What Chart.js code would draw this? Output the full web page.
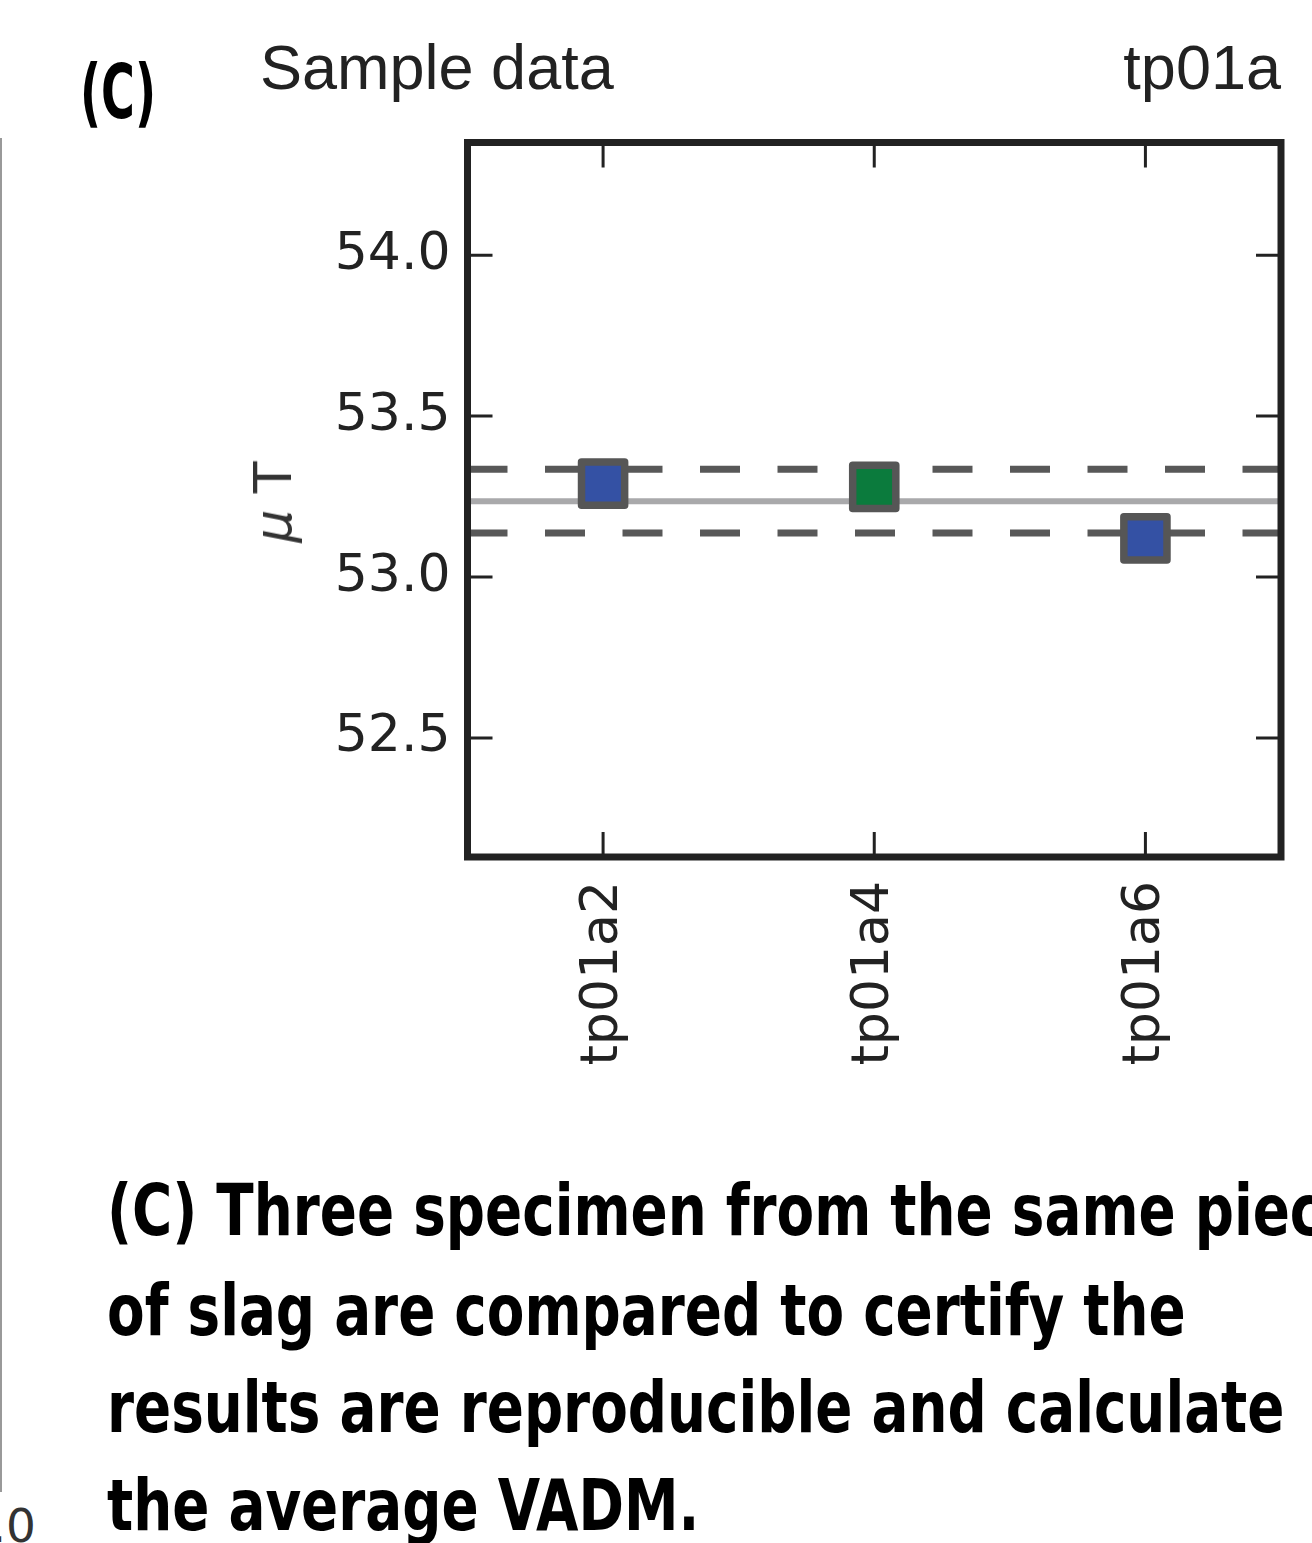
<!DOCTYPE html>
<html>
<head>
<meta charset="utf-8">
<script src="https://cdn.jsdelivr.net/npm/chart.js@4.4.1/dist/chart.umd.min.js"></script>
<style>
  html, body { margin: 0; padding: 0; background: #fff; }
  body { position: relative; width: 1312px; height: 1543px; overflow: hidden; }
  .abs { position: absolute; white-space: nowrap; line-height: 1; }
  .cond { font-family: "Liberation Sans Narrow", "DejaVu Sans Condensed", "DejaVu Sans", sans-serif; font-stretch: condensed; font-weight: bold; color: #000; transform-origin: left top; }
  .sans { font-family: "Liberation Sans", Arial, sans-serif; color: #222; }
  #chartWrap { position: absolute; left: 0; top: 0; width: 1319px; height: 1100px; }
</style>
</head>
<body>
<div id="chartWrap"><canvas id="c" width="1319" height="1100"></canvas></div>

<div class="abs cond" id="lblC" style="left:80px; top:55px; font-size:74px;">(C)</div>
<div class="abs sans" style="left:260px; top:36px; font-size:63px;">Sample data</div>
<div class="abs sans" style="right:31px; top:36px; font-size:63px;">tp01a</div>

<div class="abs" style="left:273px; top:502px; font-family:'DejaVu Sans'; font-size:52px; color:#333; transform:translate(-50%,-50%) rotate(-90deg);"><i>μ</i> T</div>

<div class="abs" style="left:0; top:138px; width:2px; height:1354px; background:#999;"></div>
<div class="abs" style="right:1276px; top:1502px; font-family:'DejaVu Sans'; font-size:47px; color:#333;">1.0</div>

<div class="abs cond cap" style="left:107px; top:1174px; font-size:72px;">(C) Three specimen from the same piece</div>
<div class="abs cond cap" style="left:107px; top:1274px; font-size:72px;">of slag are compared to certify the</div>
<div class="abs cond cap" id="capRef" style="left:107px; top:1371px; font-size:72px;">results are reproducible and calculate</div>
<div class="abs cond cap" id="capRef2" style="left:107px; top:1469px; font-size:72px;">the average VADM.</div>

<script>
// ---- data ----
const categories = ["tp01a2", "tp01a4", "tp01a6"];
const intensities = [53.29, 53.28, 53.12];          // µT
const markerColors = ["#3451a4", "#0b7b3d", "#3451a4"];
const meanValue = [53.235];
const stdBand = [53.137, 53.335];                     // mean - sd, mean + sd
const yTickValues = [52.5, 53.0, 53.5, 54.0];
const yRange = [52.13, 54.35];
const xRange = [-0.5, 2.5];

// fit condensed caption text to the reference line widths
(function fitText() {
  const r1 = document.getElementById('capRef');
  const r2 = document.getElementById('capRef2');
  const k = (1170 / r1.getBoundingClientRect().width + 596 / r2.getBoundingClientRect().width) / 2;
  document.querySelectorAll('.cap').forEach(el => { el.style.transform = 'scaleX(' + k + ')'; });
  const c = document.getElementById('lblC');
  c.style.transform = 'scaleX(' + (76 / c.getBoundingClientRect().width) + ')';
})();

const pointsData = categories.map((c, i) => ({ x: i, y: intensities[i] }));
const hLine = v => [{ x: xRange[0], y: v }, { x: xRange[1], y: v }];

const framePlugin = {
  id: 'frame',
  beforeDatasetsDraw(chart) { chart.ctx.lineJoin = 'round'; },
  afterDraw(chart) {
    const { ctx, chartArea: a, scales } = chart;
    ctx.save();
    ctx.strokeStyle = '#222';
    ctx.lineWidth = 3;
    ctx.beginPath();
    const tl = 25;
    categories.forEach((c, i) => {
      const px = scales.x.getPixelForValue(i);
      ctx.moveTo(px, a.bottom); ctx.lineTo(px, a.bottom - tl);
      ctx.moveTo(px, a.top); ctx.lineTo(px, a.top + tl);
    });
    yTickValues.forEach(v => {
      const py = scales.y.getPixelForValue(v);
      ctx.moveTo(a.left, py); ctx.lineTo(a.left + tl, py);
      ctx.moveTo(a.right, py); ctx.lineTo(a.right - tl, py);
    });
    ctx.stroke();
    ctx.lineWidth = 7;
    ctx.lineJoin = 'miter';
    ctx.strokeRect(a.left, a.top, a.right - a.left, a.bottom - a.top);
    ctx.restore();
  }
};

new Chart(document.getElementById('c'), {
  type: 'scatter',
  data: {
    datasets: [
      { data: pointsData, order: 0, showLine: false,
        pointStyle: 'rect', pointRadius: 30.5, pointHoverRadius: 30.5,
        pointBorderWidth: 7.5, pointBorderColor: '#565656',
        pointBackgroundColor: markerColors },
      { data: hLine(meanValue[0]), order: 1, showLine: true, pointRadius: 0,
        borderColor: '#a9a9ab', borderWidth: 6 },
      { data: hLine(stdBand[1]), order: 2, showLine: true, pointRadius: 0,
        borderColor: '#585858', borderWidth: 7, borderDash: [40, 37.5] },
      { data: hLine(stdBand[0]), order: 2, showLine: true, pointRadius: 0,
        borderColor: '#585858', borderWidth: 7, borderDash: [40, 37.5] }
    ]
  },
  options: {
    responsive: false,
    animation: false,
    devicePixelRatio: 1,
    layout: { padding: { left: 0, top: 142.5, right: 32, bottom: 0 } },
    plugins: { legend: { display: false }, title: { display: false }, tooltip: { enabled: false } },
    scales: {
      x: {
        type: 'linear', min: xRange[0], max: xRange[1],
        afterBuildTicks: s => { s.ticks = categories.map((c, i) => ({ value: i })); },
        afterFit: s => { s.height = 1100 - 857; s.paddingLeft = 0; s.paddingRight = 0; },
        grid: { display: false, drawTicks: false },
        border: { display: false },
        ticks: {
          autoSkip: false, minRotation: 90, maxRotation: 90, padding: 24,
          color: '#222', font: { family: 'DejaVu Sans', size: 52 },
          callback: v => categories[v] ?? ''
        }
      },
      y: {
        type: 'linear', min: yRange[0], max: yRange[1],
        afterBuildTicks: s => { s.ticks = yTickValues.map(v => ({ value: v })); },
        afterFit: s => { s.width = 467.5; s.paddingTop = 0; s.paddingBottom = 0; },
        grid: { display: false, drawTicks: false },
        border: { display: false },
        ticks: {
          padding: 17, color: '#222', font: { family: 'DejaVu Sans', size: 52 },
          callback: v => Number(v).toFixed(1)
        }
      }
    }
  },
  plugins: [framePlugin]
});
</script>
</body>
</html>
